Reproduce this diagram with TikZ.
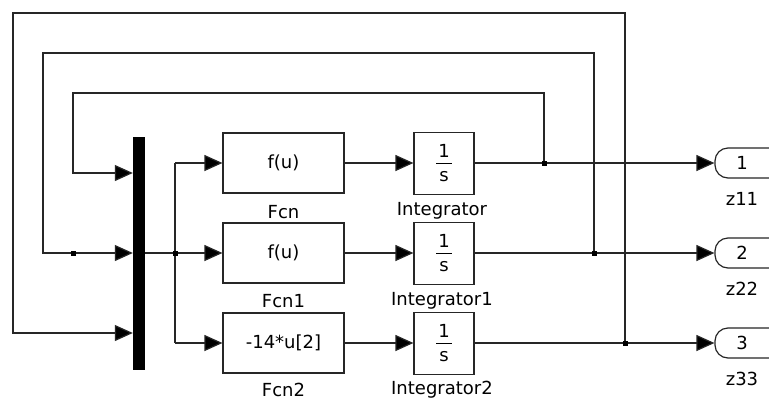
\documentclass[tikz,border=0pt]{standalone}
\usepackage{fontspec}
\setmainfont{DejaVu Sans}
\usetikzlibrary{arrows.meta}
\begin{document}
\begin{tikzpicture}[x=1pt,y=-1pt,
  wire/.style={line width=1.2pt,draw=black!85},
  sig/.style={wire,-{Triangle[length=18pt,width=16pt,fill=black]}},
  blk/.style={draw=black!85,line width=1.2pt,fill=white,inner sep=0pt,
    font=\fontsize{18}{20}\selectfont},
  fcnbox/.style={blk,minimum width=121pt,minimum height=60pt},
  intbox/.style={blk,minimum width=60pt,minimum height=62pt},
  muxbar/.style={fill=black,draw=none,minimum width=12pt,minimum height=233pt,inner sep=0pt},
  portbox/.style={blk,rounded corners=13pt,minimum width=70pt,minimum height=30pt},
  lbl/.style={font=\fontsize{18}{20}\selectfont,inner sep=0pt},
  junc/.style={fill=black,minimum size=5pt,inner sep=0pt}]
\useasboundingbox (0,0) rectangle (769,400);
\fill[white] (0,0) rectangle (769,400);
\clip (0,0) rectangle (769,400);

% mux bar
\node[muxbar] (mux) at (139,253.5) {};

% function blocks
\node[fcnbox] (f1) at (283.5,163) {f(u)};
\node[fcnbox] (f2) at (283.5,253) {f(u)};
\node[fcnbox] (f3) at (283.5,343) {-14*u[2]};
\node[lbl] at (283.5,212) {Fcn};
\node[lbl] at (283.5,301) {Fcn1};
\node[lbl] at (283.5,390) {Fcn2};

% integrators
\foreach \i/\y in {1/163.5,2/253.5,3/343.5}{
  \node[intbox] (i\i) at (444,\y) {};
  \draw[line width=1pt] (436,\y) -- (452,\y);
  \node[lbl] at (444,\y-13) {1};
  \node[lbl] at (444,\y+13) {s};
}
\node[lbl] at (442,211) {Integrator};
\node[lbl] at (442,301) {Integrator1};
\node[lbl] at (442,390) {Integrator2};

% output ports
\node[portbox] (o1) at (750,163) {};
\node[portbox] (o2) at (750,253) {};
\node[portbox] (o3) at (750,343) {};
\node[lbl] at (742,163) {1};
\node[lbl] at (742,253) {2};
\node[lbl] at (742,343) {3};
\node[lbl] at (742,199) {z11};
\node[lbl] at (742,289) {z22};
\node[lbl] at (742,379) {z33};

% junction points
\coordinate (d1) at (544,163);
\coordinate (d2) at (594,253);
\coordinate (d3) at (625,343);
\coordinate (s0) at (175,253);
\coordinate (s1) at (175,163);
\coordinate (s3) at (175,343);
\coordinate (k2) at (73,253);

% integrator outputs to ports
\draw[sig] (i1.east |- d1) -- (o1.west);
\draw[sig] (i2.east |- d2) -- (o2.west);
\draw[sig] (i3.east |- d3) -- (o3.west);

% feedback loops into the mux
\draw[sig] (d1) -- (544,93) -- (73,93) -- (73,173) -- (mux.west |- 0,173);
\draw[sig] (d2) -- (594,53) -- (43,53) -- (43,253) -- (mux.west |- 0,253);
\draw[sig] (d3) -- (625,13) -- (13,13) -- (13,333) -- (mux.west |- 0,333);

% mux output fanned out to the functions
\draw[wire] (mux.east |- s0) -- (s0);
\draw[wire] (s1) -- (s3);
\draw[sig] (s1) -- (f1.west);
\draw[sig] (s0) -- (f2.west);
\draw[sig] (s3) -- (f3.west);

% functions into integrators
\draw[sig] (f1.east) -- (i1.west |- f1.east);
\draw[sig] (f2.east) -- (i2.west |- f2.east);
\draw[sig] (f3.east) -- (i3.west |- f3.east);

% junction markers
\foreach \p in {d1,d2,d3,s0,k2}{\node[junc] at (\p) {};}
\end{tikzpicture}
\end{document}
